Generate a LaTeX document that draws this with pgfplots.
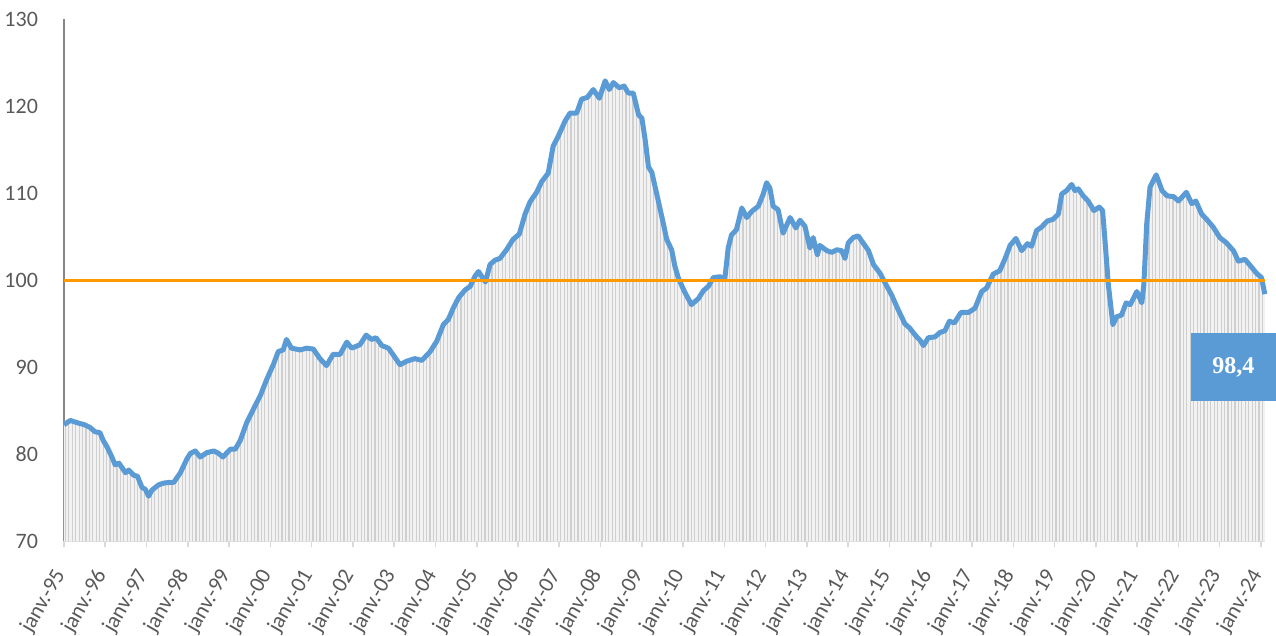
\documentclass[border=0pt]{standalone}
\usepackage{fontspec}
\setmainfont{Carlito}
\newfontfamily\seriffont{Liberation Serif}
\usepackage{pgfplots}
\usepackage{pgfplotstable}
\pgfplotsset{compat=1.18}
\usetikzlibrary{patterns.meta}

\definecolor{linecol}{HTML}{5B9BD5}
\definecolor{refcol}{HTML}{FF9900}
\definecolor{labgray}{HTML}{595959}
\definecolor{yaxgray}{HTML}{868686}
\definecolor{xaxgray}{HTML}{D9D9D9}
\definecolor{fillbg}{HTML}{F2F2F2}
\definecolor{fillline}{HTML}{CFCFCF}

\pgfplotstableread{
t val
1995.00 83.4
1995.15 83.9
1995.35 83.6
1995.50 83.4
1995.63 83.1
1995.75 82.6
1995.87 82.5
1995.95 81.6
1996.05 80.8
1996.16 79.7
1996.24 78.8
1996.33 79.0
1996.49 77.9
1996.57 78.2
1996.69 77.6
1996.78 77.5
1996.89 76.2
1996.97 76.0
1997.05 75.2
1997.13 75.9
1997.29 76.5
1997.41 76.7
1997.57 76.8
1997.66 76.8
1997.82 77.9
1997.98 79.5
1998.06 80.1
1998.18 80.4
1998.30 79.7
1998.46 80.2
1998.63 80.4
1998.75 80.1
1998.85 79.7
1999.03 80.6
1999.15 80.6
1999.27 81.6
1999.43 83.7
1999.60 85.3
1999.76 86.8
1999.91 88.6
2000.07 90.3
2000.19 91.8
2000.31 92.0
2000.39 93.2
2000.51 92.2
2000.72 92.0
2000.88 92.2
2001.04 92.1
2001.20 91.0
2001.36 90.2
2001.52 91.5
2001.69 91.5
2001.85 92.9
2001.97 92.2
2002.17 92.6
2002.32 93.7
2002.45 93.2
2002.56 93.4
2002.70 92.5
2002.86 92.2
2002.98 91.4
2003.14 90.3
2003.30 90.7
2003.50 91.0
2003.67 90.8
2003.87 91.8
2004.03 93.0
2004.19 94.9
2004.31 95.5
2004.43 96.8
2004.56 98.0
2004.72 98.9
2004.84 99.3
2004.96 100.5
2005.04 101.0
2005.21 99.8
2005.32 101.8
2005.44 102.3
2005.56 102.5
2005.72 103.5
2005.88 104.7
2006.03 105.3
2006.17 107.6
2006.29 109.0
2006.45 110.1
2006.57 111.3
2006.73 112.3
2006.85 115.4
2006.97 116.5
2007.14 118.3
2007.26 119.2
2007.42 119.2
2007.54 120.8
2007.68 121.0
2007.82 121.9
2007.97 120.9
2008.11 122.9
2008.21 121.9
2008.31 122.7
2008.45 122.1
2008.57 122.3
2008.67 121.5
2008.79 121.5
2008.92 119.0
2009.00 118.6
2009.08 116.1
2009.16 113.0
2009.24 112.4
2009.36 109.9
2009.52 106.5
2009.60 104.7
2009.72 103.5
2009.80 101.6
2009.88 100.3
2010.02 98.8
2010.20 97.2
2010.37 97.9
2010.49 98.8
2010.61 99.3
2010.73 100.3
2010.89 100.4
2011.01 100.2
2011.09 103.7
2011.17 105.2
2011.29 105.8
2011.42 108.3
2011.54 107.2
2011.66 107.9
2011.82 108.5
2011.94 109.9
2012.02 111.2
2012.10 110.6
2012.18 108.5
2012.30 108.1
2012.42 105.4
2012.59 107.2
2012.73 106.0
2012.83 106.9
2012.95 106.2
2013.07 103.7
2013.15 104.9
2013.25 102.9
2013.31 104.0
2013.48 103.4
2013.60 103.2
2013.72 103.5
2013.84 103.4
2013.92 102.5
2014.00 104.3
2014.12 104.9
2014.24 105.1
2014.37 104.2
2014.49 103.4
2014.61 101.8
2014.77 100.8
2014.89 99.7
2015.05 98.3
2015.21 96.6
2015.37 95.0
2015.49 94.5
2015.62 93.7
2015.74 93.1
2015.82 92.5
2015.94 93.4
2016.10 93.5
2016.22 94.0
2016.34 94.2
2016.45 95.3
2016.57 95.1
2016.73 96.3
2016.91 96.3
2017.07 96.8
2017.23 98.7
2017.35 99.1
2017.51 100.7
2017.67 101.1
2017.80 102.5
2017.92 104.0
2018.06 104.8
2018.20 103.4
2018.34 104.2
2018.44 103.9
2018.56 105.7
2018.68 106.1
2018.82 106.8
2018.96 107.0
2019.09 107.6
2019.17 109.9
2019.29 110.3
2019.41 111.0
2019.49 110.3
2019.57 110.5
2019.69 109.7
2019.81 109.1
2019.95 108.0
2020.08 108.4
2020.16 108.0
2020.22 104.5
2020.30 99.5
2020.41 94.9
2020.50 95.8
2020.62 96.0
2020.73 97.4
2020.83 97.2
2020.99 98.7
2021.11 97.4
2021.16 99.5
2021.23 106.5
2021.31 110.7
2021.46 112.1
2021.60 110.3
2021.72 109.7
2021.88 109.6
2022.00 109.1
2022.19 110.1
2022.32 108.8
2022.42 109.1
2022.56 107.6
2022.68 107.0
2022.84 106.1
2023.00 104.9
2023.16 104.3
2023.33 103.4
2023.45 102.2
2023.61 102.4
2023.77 101.5
2023.89 100.8
2024.01 100.3
2024.09 98.4
}\indice

\begin{document}
\begin{tikzpicture}
\begin{axis}[
    scale only axis,
    width=600.6pt, height=261.25pt,
    xmin=1995, xmax=2024.1,
    ymin=70, ymax=130,
    axis x line=bottom, axis y line=left,
    x axis line style={draw=xaxgray, line width=0.8pt, -},
    y axis line style={draw=yaxgray, line width=0.6pt, -},
    xtick={1995,...,2024},
    xticklabels={janv.-95,janv.-96,janv.-97,janv.-98,janv.-99,janv.-00,janv.-01,janv.-02,janv.-03,janv.-04,janv.-05,janv.-06,janv.-07,janv.-08,janv.-09,janv.-10,janv.-11,janv.-12,janv.-13,janv.-14,janv.-15,janv.-16,janv.-17,janv.-18,janv.-19,janv.-20,janv.-21,janv.-22,janv.-23,janv.-24},
    ytick={70,80,...,130},
    tick align=outside,
    major tick length=3pt,
    xtick style={draw=xaxgray, line width=0.8pt},
    ytick style={draw=none},
    tick label style={font=\fontsize{11}{13}\selectfont, text=labgray},
    x tick label style={yshift=-9pt, rotate=60, anchor=east},
    y tick label style={xshift=-6.5pt},
    /pgf/number format/assume math mode=true,
    clip=false,
]
\addplot[draw=none, fill=fillbg,
    postaction={pattern color=fillline,
        pattern={Lines[angle=90, distance=1.72pt, line width=0.6pt]}}]
    table[x=t, y=val] {\indice} \closedcycle;
\addplot[linecol, line width=2.5pt, line join=round] table[x=t, y=val] {\indice};
\addplot[refcol, line width=1.5pt] coordinates {(1995,100) (2024.1,100)};
\node[fill=linecol, text=white, minimum width=42.5pt, minimum height=34pt,
      inner sep=0pt, font=\seriffont\bfseries\fontsize{12}{14}\selectfont]
      at (axis cs:2023.33,90.0) {98,4};
\coordinate (bbSW) at (rel axis cs:0,0);
\end{axis}
\pgfresetboundingbox
\path[use as bounding box] ([xshift=-32pt, yshift=-47.25pt]bbSW) rectangle ([xshift=606pt, yshift=270.75pt]bbSW);
\end{tikzpicture}
\end{document}
